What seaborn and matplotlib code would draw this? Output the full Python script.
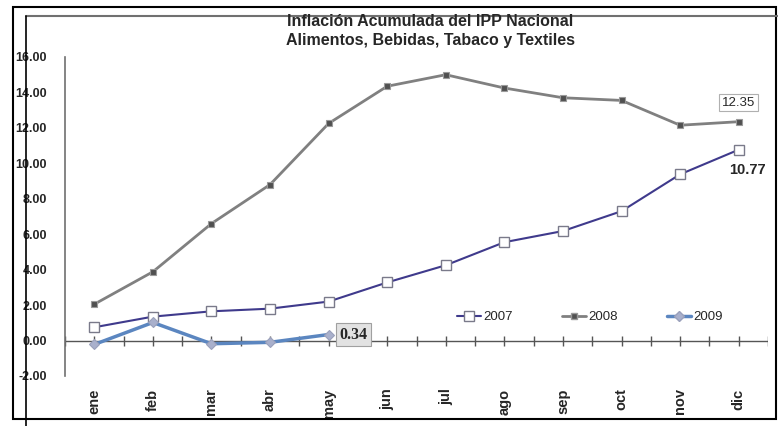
import matplotlib
matplotlib.use("Agg")
import matplotlib.pyplot as plt
import seaborn as sns
import pandas as pd
from matplotlib.patches import Rectangle
from matplotlib.lines import Line2D

months = ["ene", "feb", "mar", "abr", "may", "jun", "jul", "ago", "sep", "oct", "nov", "dic"]
v2007 = [0.75, 1.35, 1.65, 1.80, 2.20, 3.28, 4.25, 5.55, 6.18, 7.30, 9.38, 10.77]
v2008 = [2.05, 3.88, 6.60, 8.80, 12.25, 14.35, 15.00, 14.25, 13.70, 13.55, 12.15, 12.35]
v2009 = [-0.22, 1.02, -0.18, -0.10, 0.34]
yticks = [-2, 0, 2, 4, 6, 8, 10, 12, 14, 16]
title = "Inflación Acumulada del IPP Nacional\nAlimentos, Bebidas, Tabaco y Textiles"

sns.set_theme(style="white")
plt.rcParams["font.family"] = ["Liberation Sans", "DejaVu Sans"]

W, H = 778, 426
fig = plt.figure(figsize=(W / 100, H / 100), dpi=100)
ax = fig.add_axes([65 / W, 1 - 376 / H, (768 - 65) / W, (376 - 57) / H])

pos = list(range(len(months)))
df07 = pd.DataFrame({"x": pos, "y": v2007})
df08 = pd.DataFrame({"x": pos, "y": v2008})
df09 = pd.DataFrame({"x": pos[:len(v2009)], "y": v2009})

sns.lineplot(data=df08, x="x", y="y", ax=ax, color="#808080", lw=2.0,
             marker="s", markersize=5, markerfacecolor="#505050",
             markeredgecolor="#9a9a9a", markeredgewidth=0.8, zorder=3)
sns.lineplot(data=df07, x="x", y="y", ax=ax, color="#3f3a8c", lw=1.5,
             marker="s", markersize=6.5, markerfacecolor="white",
             markeredgecolor="#7a7a8a", markeredgewidth=1.0, zorder=4)
sns.lineplot(data=df09, x="x", y="y", ax=ax, color="#5b86c0", lw=2.5,
             marker="D", markersize=5, markerfacecolor="#a9b0cc",
             markeredgecolor="#9aa0bb", markeredgewidth=0.8, zorder=5)

ax.set_xlim(-0.5, len(months) - 0.5)
ax.set_ylim(-2, 16)
ax.set_yticks(yticks)
ax.set_yticklabels([f"{t:.2f}" for t in yticks], fontsize=9, fontweight="bold")
ax.set_xticks(pos)
ax.set_xticklabels(months, rotation=90, fontsize=10.5, fontweight="bold",
                   family=["Liberation Sans Narrow", "Liberation Sans", "DejaVu Sans"])
ax.tick_params(axis="x", length=0, pad=9)
ax.tick_params(axis="y", length=0, pad=13)
ax.set_xlabel("")
ax.set_ylabel("")
for s in ["top", "right", "bottom"]:
    ax.spines[s].set_visible(False)
ax.spines["left"].set_color("#707070")
ax.spines["left"].set_linewidth(1.2)

# zero axis with crossing ticks
ax.axhline(0, color="#555555", lw=1.0, zorder=2)
half = [p - 0.5 for p in pos] + [p for p in pos] + [len(months) - 0.5]
ax.vlines(half, -0.3, 0.25, color="#555555", lw=1.0, zorder=2)

# annotations
ax.annotate("12.35", xy=(11, v2008[11]), xytext=(0, 19), textcoords="offset pixels",
            ha="center", va="center", fontsize=9.5,
            bbox=dict(boxstyle="square,pad=0.2", fc="white", ec="#b0b0b0", lw=0.8))
ax.annotate("10.77", xy=(11, v2007[11]), xytext=(9, -20), textcoords="offset pixels",
            ha="center", va="center", fontsize=10.5, fontweight="bold")
ax.annotate("0.34", xy=(4, v2009[4]), xytext=(25, 0), textcoords="offset pixels",
            ha="center", va="center", fontsize=11.5, fontweight="bold",
            family=["Liberation Serif", "DejaVu Serif"],
            bbox=dict(boxstyle="square,pad=0.2", fc="#e2e2e2", ec="#a0a0a0", lw=0.8))

# legend
handles = [
    Line2D([], [], color="#3f3a8c", lw=1.5, marker="s", markersize=6.5,
           markerfacecolor="white", markeredgecolor="#7a7a8a"),
    Line2D([], [], color="#808080", lw=2.0, marker="s", markersize=5,
           markerfacecolor="#505050", markeredgecolor="#9a9a9a"),
    Line2D([], [], color="#5b86c0", lw=2.5, marker="D", markersize=5,
           markerfacecolor="#a9b0cc", markeredgecolor="#9aa0bb"),
]
ax.legend(handles, ["2007", "2008", "2009"], loc="center",
          bbox_to_anchor=((590 - 65) / 703, (376 - 317) / 319), ncol=3,
          frameon=False, fontsize=9.5, handlelength=1.8, handletextpad=0.2,
          columnspacing=3.7)

# title
fig.text(430 / W, 1 - 31 / H, title, ha="center", va="center",
         fontsize=11.5, fontweight="bold", linespacing=1.25)

# frame decorations
fig.patches.append(Rectangle((13 / W, 1 - 419 / H), (776 - 13) / W, (419 - 7) / H,
                             transform=fig.transFigure, fill=False, ec="black", lw=1.5))
fig.lines.append(Line2D([26 / W, 1], [1 - 16 / H, 1 - 16 / H], transform=fig.transFigure,
                        color="#707070", lw=1.5))
fig.lines.append(Line2D([26 / W, 26 / W], [1 - 16 / H, 0], transform=fig.transFigure,
                        color="black", lw=1.2))

fig.savefig("out.png", dpi=100)
